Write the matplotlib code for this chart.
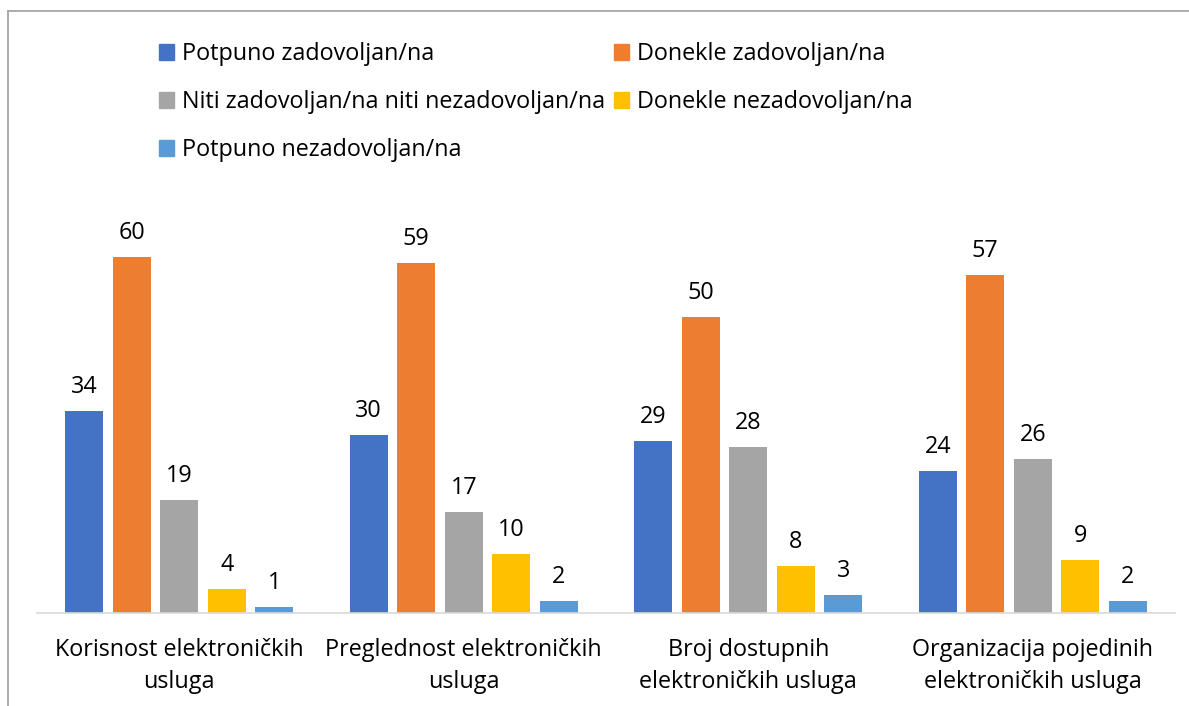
import matplotlib
matplotlib.use('Agg')
import matplotlib.pyplot as plt
from matplotlib.patches import Patch
from matplotlib.lines import Line2D
import numpy as np

# podaci
kategorije = ['Korisnost elektroničkih\nusluga', 'Preglednost elektroničkih\nusluga',
              'Broj dostupnih\nelektroničkih usluga', 'Organizacija pojedinih\nelektroničkih usluga']
serije = ['Potpuno zadovoljan/na', 'Donekle zadovoljan/na',
          'Niti zadovoljan/na niti nezadovoljan/na', 'Donekle nezadovoljan/na',
          'Potpuno nezadovoljan/na']
potpuno_zad = [34, 30, 29, 24]
donekle_zad = [60, 59, 50, 57]
niti = [19, 17, 28, 26]
donekle_nezad = [4, 10, 8, 9]
potpuno_nezad = [1, 2, 3, 2]
boje = ['#4472C4', '#ED7D31', '#A5A5A5', '#FFC000', '#5B9BD5']

vrijednosti = [potpuno_zad, donekle_zad, niti, donekle_nezad, potpuno_nezad]

plt.rcParams['font.family'] = ['Open Sans', 'DejaVu Sans']

W, H = 1189, 706
fig = plt.figure(figsize=(W/100, H/100), dpi=100)

# velicina fonta prema sirini najduljeg natpisa u legendi (~424 px)
r = fig.canvas.get_renderer()
t = fig.text(0, 0, serije[2], fontsize=10)
fs = 10 * 424 / t.get_window_extent(r).width
t.remove()

ax = fig.add_axes([37/W, 1-613/H, (1175-37)/W, (613-198)/H])

x = np.arange(len(kategorije))
korak = 0.167
sirina = 0.133
for i, (vals, c) in enumerate(zip(vrijednosti, boje)):
    pos = x + (i-2)*korak
    ax.bar(pos, vals, width=sirina, color=c, zorder=2)
    for p, v in zip(pos, vals):
        ax.annotate(str(v), (p, v), xytext=(0, 13), textcoords='offset points',
                    ha='center', va='baseline', fontsize=fs, color='#000000')

ax.set_xlim(-0.5, 3.5)
ax.set_ylim(0, 70)
ax.set_yticks([])
ax.set_xticks(x)
ax.set_xticklabels(kategorije, fontsize=fs, linespacing=1.42)
ax.tick_params(axis='x', length=0, pad=18)
for s in ['top', 'right', 'left']:
    ax.spines[s].set_visible(False)
ax.spines['bottom'].set_color('#D9D9D9')
ax.spines['bottom'].set_linewidth(1.2)

# legenda, redoslijed kao u Excelu
ruke = [Patch(color=c) for c in boje]
red = [0, 2, 4, 1, 3]
fig.legend([ruke[i] for i in red], [serije[i] for i in red], ncol=2,
           loc='upper left', bbox_to_anchor=(159/W, 1-42/H), frameon=False,
           fontsize=fs, handlelength=0.64, handleheight=0.64, handletextpad=0.34,
           labelspacing=1.03, columnspacing=0.38, borderpad=0, borderaxespad=0)

# okvir
fig.add_artist(Line2D([8/W, 8/W], [0, 1-11/H], color='#A6A6A6', lw=1.3))
fig.add_artist(Line2D([8/W, 1], [1-11/H, 1-11/H], color='#A6A6A6', lw=1.3))

fig.savefig('out.png', dpi=100)
